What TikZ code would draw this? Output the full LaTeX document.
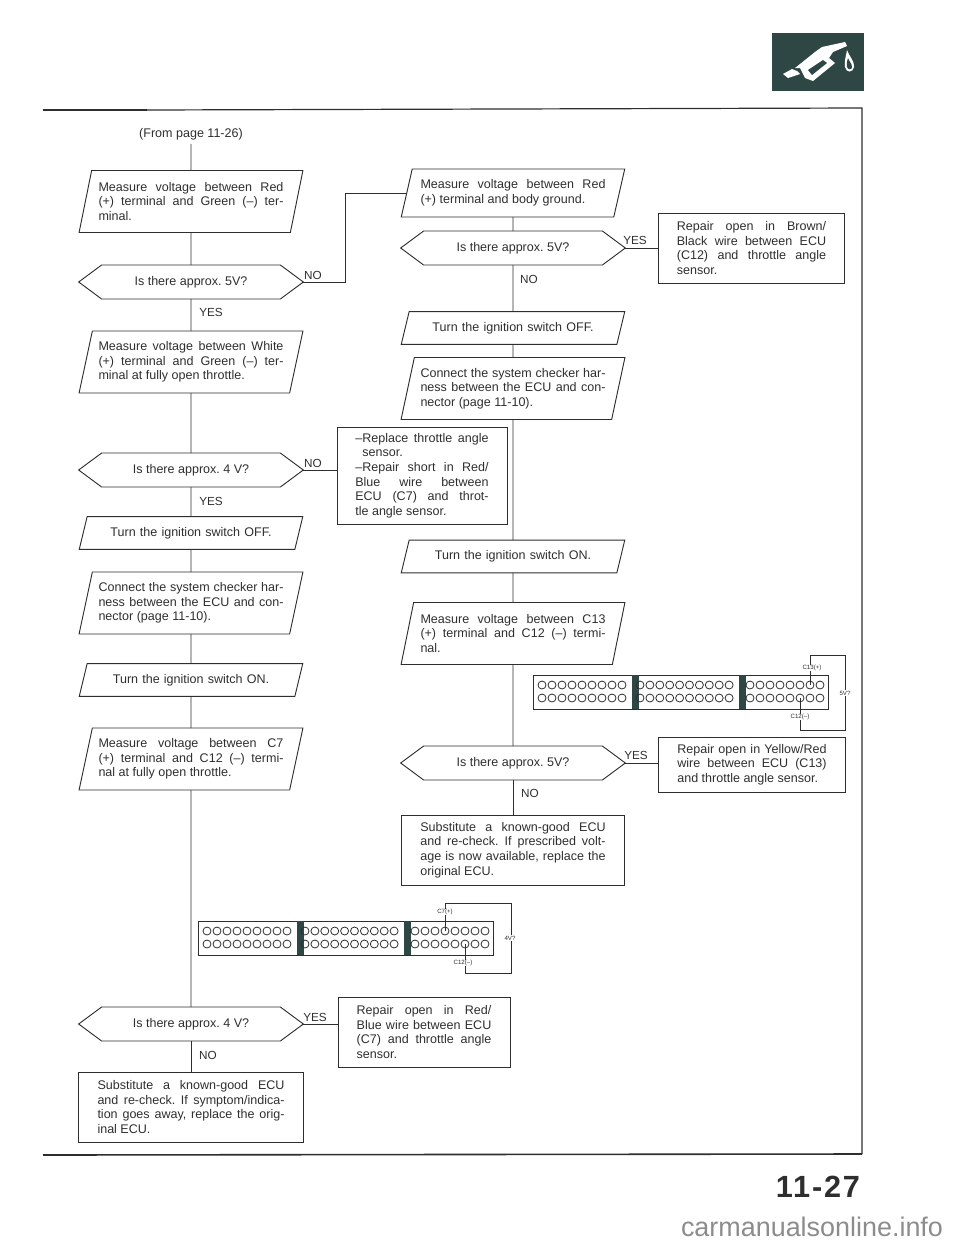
\documentclass[tikz,border=0pt]{standalone}
\usepackage{fontspec}
\setmainfont{Liberation Sans}
\usepackage{xcolor}
\usepackage{tikz}
\usetikzlibrary{shapes.geometric,shapes.symbols}
\colorlet{myink}{black!82}
\colorlet{mygrey}{black!45}
\definecolor{mydark}{HTML}{2F4744}
\def\manualfont{\fontsize{9.4}{10.9}\selectfont\frenchspacing}
\tikzset{
  link/.style={thick,myink,line width=0.7pt},
  node txt/.style={myink,font=\manualfont,inner sep=0,outer sep=0},
  para/.style={node txt,draw,line width=0.7pt,trapezium,trapezium stretches=true,minimum width=168pt,
    trapezium left angle=#1,trapezium right angle=180-#1,align=justify,text width=138.75pt},
  para 1/.style={para=59,minimum height=24.5pt,align=center}, % one text line
  para 2/.style={para=69,minimum height=36pt},
  para 3/.style={para=73,minimum height=46.5pt},
  question/.style={node txt,draw,line width=0.7pt,signal,signal to=west and east,signal pointer angle=73,
    minimum width=168.5pt,minimum height=25.5pt},
  repair/.style={node txt,draw,line width=0.7pt,align=justify,minimum width=140pt},
  answer/.style={node txt,font=\fontsize{8.8}{10}\selectfont},
  socket/.style={draw=myink,line width=0.9pt,minimum width=221.25pt,minimum height=25.5pt,inner sep=0},
  hole/.style={circle,draw=myink,line width=0.6pt,minimum size=6pt,inner sep=0},
  wire/.style={myink,line width=0.6pt},
  pin/.style={myink,fill=white,inner sep=0.4pt,font=\fontsize{4.6}{5}\selectfont}
}
\begin{document}
\begin{tikzpicture}[x=0.75pt,y=-0.75pt]
	\useasboundingbox (0,0) rectangle (960,1243);

	% page frame
	\coordinate (tl) at (43,110);
	\coordinate (tm) at (147,110);
	\coordinate (tr) at (862,108);
	\coordinate (br) at (862,1154);
	\coordinate (bl) at (43,1155);
	\draw[myink,line width=1.6pt] (tl) -- (tm);
	\draw[myink,line width=0.9pt] (tm) -- (tr) -- (br);
	\draw[myink,line width=1.2pt] (br) -- (bl);

	% left column
	\node[node txt] (from) at (191,134) {(From page 11-26)};
	\node[para 3] (m1) at (191,201.5) {Measure voltage between Red\linebreak (+) terminal and Green (--) ter-\linebreak minal.};
	\node[question] (q1) at (191,282) {Is there approx. 5V?};
	\node[para 3] (m2) at (191,362) {Measure voltage between White\linebreak (+) terminal and Green (--) ter-\linebreak minal at fully open throttle.};
	\node[question] (q2) at (191,470) {Is there approx. 4 V?};
	\node[para 1] (off1) at (191,533) {Turn the ignition switch OFF.};
	\node[para 3] (con1) at (191,603) {Connect the system checker har-\linebreak ness between the ECU and con-\linebreak nector (page 11-10).};
	\node[para 1] (on1) at (191,680) {Turn the ignition switch ON.};
	\node[para 3] (m3) at (191,759) {Measure voltage between C7\linebreak (+) terminal and C12 (--) termi-\linebreak nal at fully open throttle.};
	\node[question] (q3) at (191,1024) {Is there approx. 4 V?};
	\node[repair,text width=140.25pt,minimum width=169pt,minimum height=52.5pt] (s1) at (191,1107) {Substitute a known-good ECU\linebreak and re-check. If symptom/indica-\linebreak tion goes away, replace the orig-\linebreak inal ECU.};

	% right column
	\node[para 2] (m4) at (513,193) {Measure voltage between Red\linebreak (+) terminal and body ground.};
	\node[question] (q4) at (513,248) {Is there approx. 5V?};
	\node[para 1] (off2) at (513,328) {Turn the ignition switch OFF.};
	\node[para 3] (con2) at (513,388.5) {Connect the system checker har-\linebreak ness between the ECU and con-\linebreak nector (page 11-10).};
	\node[para 1] (on2) at (513,556.5) {Turn the ignition switch ON.};
	\node[para 3] (m5) at (513,633.5) {Measure voltage between C13\linebreak (+) terminal and C12 (--) termi-\linebreak nal.};
	\node[question] (q5) at (513,763) {Is there approx. 5V?};
	\node[repair,text width=139pt,minimum width=167.25pt,minimum height=52.5pt] (s2) at (513,850) {Substitute a known-good ECU\linebreak and re-check. If prescribed volt-\linebreak age is now available, replace the\linebreak original ECU.};

	% repair boxes
	\node[repair,text width=112pt,minimum height=52.5pt] (r1) at (751.5,248) {Repair open in Brown/\linebreak Black wire between ECU\linebreak (C12) and throttle angle\linebreak sensor.};
	\node[repair,text width=100pt,minimum width=127.5pt,minimum height=72.75pt] (r2) at (422,475.5) {\hangindent=5.25pt --Replace throttle angle\linebreak sensor.\par
		\hangindent=5.25pt --Repair short in Red/\linebreak Blue wire between\linebreak ECU (C7) and throt-\linebreak tle angle sensor.};
	\node[repair,text width=101pt,minimum width=129pt,minimum height=52.5pt] (r3) at (424,1032) {Repair open in Red/\linebreak Blue wire between ECU\linebreak (C7) and throttle angle\linebreak sensor.};
	\node[repair,text width=112pt,minimum height=41.25pt] (r4) at (752,764.5) {Repair open in Yellow/Red\linebreak wire between ECU (C13)\linebreak and throttle angle sensor.};

	% answers
	\node[answer] (a1) at (313,275) {NO};
	\node[answer] (a2) at (211,312) {YES};
	\node[answer] (a3) at (313,463) {NO};
	\node[answer] (a4) at (211,501) {YES};
	\node[answer] (a5) at (315,1017) {YES};
	\node[answer] (a6) at (208,1055) {NO};
	\node[answer] (a7) at (635,240) {YES};
	\node[answer] (a8) at (529,279) {NO};
	\node[answer] (a9) at (636,755) {YES};
	\node[answer] (a10) at (530,793) {NO};

	% connectors
	\coordinate (turn1) at (345,282);
	\draw[link,shorten <=3pt] (from.south) -- (m1.north);
	\draw[link] (m1.south) -- (q1.north);
	\draw[link] (q1.south) -- (m2.north);
	\draw[link] (m2.south) -- (q2.north);
	\draw[link] (q2.south) -- (off1.north);
	\draw[link] (off1.south) -- (con1.north);
	\draw[link] (con1.south) -- (on1.north);
	\draw[link] (on1.south) -- (m3.north);
	\draw[link] (m3.south) -- (q3.north);
	\draw[link] (q3.south) -- (s1.north);
	\draw[link] (q1.east) -- (turn1) |- (m4.west);
	\draw[link] (q2.east) -- (q2.east -| r2.west);
	\draw[link] (q3.east) -- (q3.east -| r3.west);
	\draw[link] (m4.south) -- (q4.north);
	\draw[link] (q4.south) -- (off2.north);
	\draw[link] (off2.south) -- (con2.north);
	\draw[link] (con2.south) -- (on2.north);
	\draw[link] (on2.south) -- (m5.north);
	\draw[link] (m5.south) -- (q5.north);
	\draw[link] (q5.south) -- (s2.north);
	\draw[link] (q4.east) -- (r1.west);
	\draw[link] (q5.east) -- (q5.east -| r4.west);

	% two connector faces
	\foreach \side/\ox/\oy in {a/198/921,b/533/675}{
			\node[socket,anchor=north west] (face\side) at (\ox,\oy) {};
			\fill[mydark] (\ox+99,\oy) rectangle (\ox+106,\oy+34);
			\fill[mydark] (\ox+206,\oy) rectangle (\ox+213,\oy+34);
			\foreach \i in {0,...,8}{
					\node[hole] (\side t\i) at (\ox+9+10*\i,\oy+10) {};
					\node[hole] (\side u\i) at (\ox+9+10*\i,\oy+23) {};
				}
			\foreach \i in {0,...,9}{
					\node[hole] (\side v\i) at (\ox+107+9.9*\i,\oy+10) {};
					\node[hole] (\side w\i) at (\ox+107+9.9*\i,\oy+23) {};
				}
			\foreach \i in {0,...,7}{
					\node[hole] (\side x\i) at (\ox+217+10*\i,\oy+10) {};
					\node[hole] (\side y\i) at (\ox+217+10*\i,\oy+23) {};
				}
		}

	% test leads
	\coordinate (la) at (443,903);
	\coordinate (lb) at (511,973);
	\coordinate (lc) at (810,655);
	\coordinate (ld) at (845,730);
	\draw[wire] (ax3.center) -- (ax3.center |- la) -| (lb) -- (lb -| ay5.center) -- (ay5.center);
	\draw[wire] (bx6.center) -- (bx6.center |- lc) -| (ld) -- (ld -| by5.center) -- (by5.center);
	\node[pin] (p1) at (445,912) {C7(+)};
	\node[pin] (p2) at (463,963) {C12(--)};
	\node[pin] (p3) at (510,938) {4V?};
	\node[pin] (p4) at (812,668) {C13(+)};
	\node[pin] (p5) at (800,717) {C12(--)};
	\node[pin] (p6) at (845,693) {5V?};

	% nozzle badge
	\fill[mydark] (772,33) rectangle (864,91);
	\fill[white] (795,68) -- (815,52) -- (822,47) -- (845,42) -- (847,46) -- (833,52)
	-- (829,58) -- (835,63) -- (813,81) -- (805,78) -- (800,68) -- cycle;
	\fill[white] (783,74) -- (792,69) -- (797,71) -- (800,74) -- (788,78) -- cycle;
	\fill[mydark] (808,70) -- (823,60) -- (827,63) -- (812,75) -- cycle;
	\fill[white] (847,50) .. controls (846,56) and (844,62) .. (845,67) .. controls (846,73) and (853,73) .. (854,67) .. controls (855,62) and (849,56) .. cycle;
	\fill[mydark] (848,58) .. controls (847,62) and (846,65) .. (847,67) .. controls (848,70) and (852,70) .. (852,67) .. controls (852,64) and (849,61) .. cycle;

	% page number and site name
	\node[inner sep=0,myink,font=\fontsize{23}{24}\selectfont\bfseries\addfontfeature{LetterSpace=6}] (pageno) at (818,1187) {11-27};
	\node[inner sep=0,mygrey,font=\fontsize{20.2}{22}\selectfont] (site) at (812,1227) {carmanualsonline.info};
\end{tikzpicture}
\end{document}
